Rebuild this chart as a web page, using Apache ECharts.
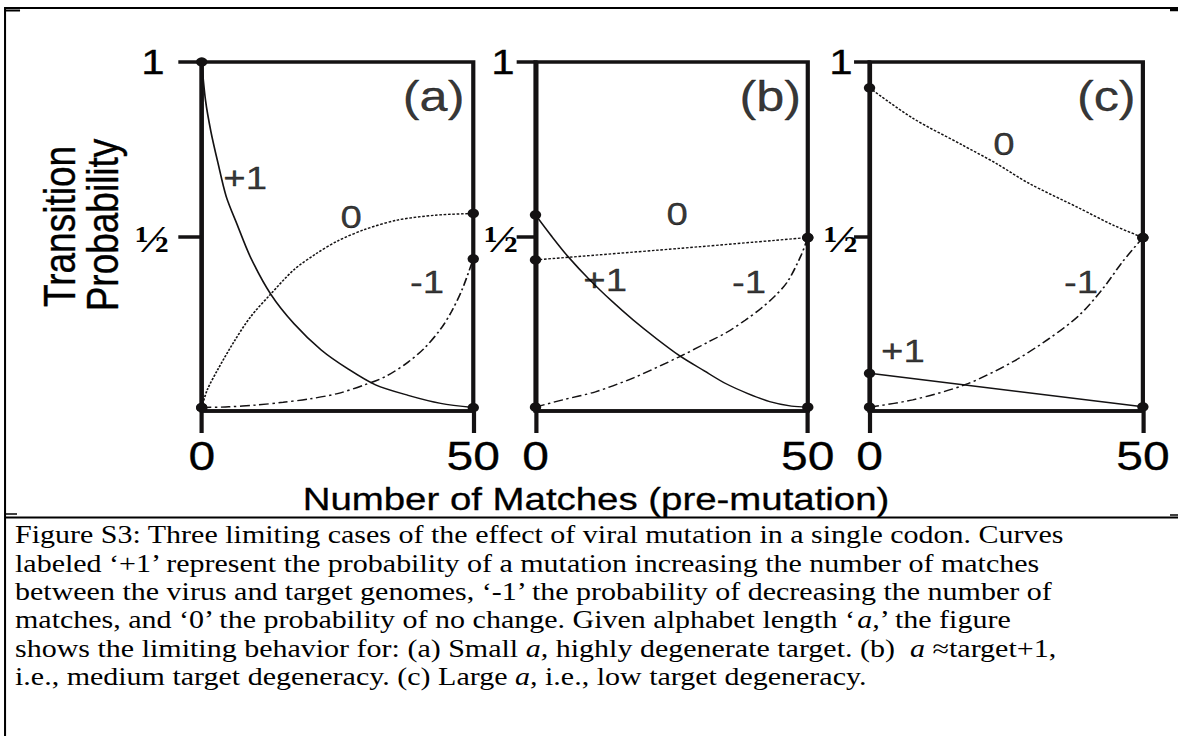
<!DOCTYPE html>
<html>
<head>
<meta charset="utf-8">
<script src="https://cdn.jsdelivr.net/npm/echarts@6/dist/echarts.min.js"></script>
<style>
  html, body { margin: 0; padding: 0; background: #fff; overflow: hidden; }
  #wrap { width: 1178px; height: 736px; overflow: hidden; }
  /* the figure is laid out narrow and widened horizontally as a whole */
  #chart { width: 981.67px; height: 736px; transform: scaleX(1.2); transform-origin: 0 0; }
</style>
</head>
<body>
<div id="wrap"><div id="chart"></div></div>
<script>
// ---- tick values and labels ----
const xTickValues = [0, 50];
const xTickLabels = ['0', '50'];
const yTickValues = [0.5, 1];
const yTickLabels = ['½', '1'];
const panelNames = ['(a)', '(b)', '(c)'];
const curveNames = ['+1', '0', '-1'];

// ---- panel (a): small alphabet, highly degenerate target ----
const aPlusX  = [0, 0.7, 1.7, 3, 4.5, 6.5, 9, 12.7, 17, 22, 27, 32, 38, 44, 50];
const aPlusY  = [1.0, 0.89, 0.80, 0.71, 0.615, 0.535, 0.44, 0.335, 0.25, 0.175, 0.12, 0.075, 0.045, 0.022, 0.01];
const aZeroX  = [0, 1, 3, 6, 9, 12.7, 17, 21, 25, 30, 36, 43, 50];
const aZeroY  = [0.01, 0.06, 0.12, 0.2, 0.27, 0.335, 0.405, 0.45, 0.487, 0.52, 0.547, 0.561, 0.566];
const aMinusX = [0, 5, 10, 15, 20, 25, 30, 34, 38, 41, 44, 46, 48, 50];
const aMinusY = [0.01, 0.012, 0.017, 0.025, 0.035, 0.05, 0.075, 0.1, 0.14, 0.18, 0.235, 0.285, 0.35, 0.436];

// ---- panel (b): alphabet about target + 1 ----
const bPlusX  = [0, 3, 6, 10, 14, 18, 22, 26.5, 31, 35, 39, 43, 47, 50];
const bPlusY  = [0.562, 0.5, 0.442, 0.375, 0.315, 0.26, 0.21, 0.158, 0.115, 0.078, 0.05, 0.027, 0.014, 0.011];
const bZeroX  = [0, 26.5, 50];
const bZeroY  = [0.433, 0.466, 0.497];
const bMinusX = [0, 5, 11, 18, 26.5, 32, 35.3, 38.5, 41.4, 44, 46.3, 48.8, 50];
const bMinusY = [0.011, 0.032, 0.055, 0.095, 0.156, 0.2, 0.227, 0.26, 0.294, 0.33, 0.371, 0.447, 0.497];

// ---- panel (c): large alphabet, low target degeneracy ----
const cPlusX  = [0, 50];
const cPlusY  = [0.108, 0.012];
const cZeroX  = [0, 7.9, 17, 23.1, 29.2, 38.4, 44.5, 50];
const cZeroY  = [0.926, 0.839, 0.762, 0.71, 0.652, 0.581, 0.533, 0.497];
const cMinusX = [0, 7.9, 17.6, 26.2, 32.9, 38.4, 42.7, 46.3, 50];
const cMinusY = [0.011, 0.032, 0.076, 0.141, 0.208, 0.275, 0.351, 0.428, 0.497];

// ---- where each curve name sits, in data units (x, probability), order +1, 0, -1 ----
const aNamePos = [[8.0, 0.668], [27.5, 0.556], [41.5, 0.37]];
const bNamePos = [[12.8, 0.375], [26.0, 0.564], [39.2, 0.37]];
const cNamePos = [[6.1, 0.172], [24.6, 0.765], [38.7, 0.37]];
const panelNamePos = [[42.7, 0.9], [43.1, 0.9], [43.3, 0.9]];

const captionLines = [
  'Figure S3: Three limiting cases of the effect of viral mutation in a single codon. Curves',
  'labeled \u2018+1\u2019 represent the probability of a mutation increasing the number of matches',
  'between the virus and target genomes, \u2018-1\u2019 the probability of decreasing the number of',
  'matches, and \u20180\u2019 the probability of no change. Given alphabet length \u2018{i|a,}\u2019 the figure',
  'shows the limiting behavior for: (a) Small {i|a,} highly degenerate target. (b)\u00a0 {i|a} \u2248target+1,',
  'i.e., medium target degeneracy. (c) Large {i|a,} i.e., low target degeneracy.'
];

// ---- drawing ----
const INK = '#141213';
const TXT = '#000';
const SANS = 'Liberation Sans';
const SERIF = 'Liberation Serif';
const HEAVY = 0.3; // thin outline so the large sans text reads as heavy as the rules

const panelCurves = [
  [[aPlusX, aPlusY], [aZeroX, aZeroY], [aMinusX, aMinusY]],
  [[bPlusX, bPlusY], [bZeroX, bZeroY], [bMinusX, bMinusY]],
  [[cPlusX, cPlusY], [cZeroX, cZeroY], [cMinusX, cMinusY]]
];
const panelNameSets = [aNamePos, bNamePos, cNamePos];

const gridBoxes = [
  { left: 168.1, width: 226.3 },
  { left: 446.25, width: 226.9 },
  { left: 724.6, width: 227.8 }
];
const yTickLen = [19.5, 15.7, 12.9];
const yHalfMargin = [27, 14.4, 9.6];
const yOnePad = [4, 3, 4.4];

const lineTypes = ['solid', [2.2, 1.4], [8, 3, 2, 3]];

function endpointData(xs, ys) {
  return xs.map((x, i) => ({
    value: [x, ys[i]],
    symbol: (i === 0 || i === xs.length - 1) ? 'circle' : 'none'
  }));
}

const grids = [], xAxes = [], yAxes = [], series = [];
gridBoxes.forEach((g, p) => {
  grids.push({
    left: g.left, width: g.width, top: 62, height: 349,
    show: true, borderColor: INK, borderWidth: 3.5, backgroundColor: 'transparent'
  });
  xAxes.push({
    gridIndex: p, type: 'value', min: 0, max: 50, interval: 50,
    axisLine: { show: true, lineStyle: { color: INK, width: 3.5 } },
    axisTick: { show: true, length: 22, customValues: xTickValues, lineStyle: { color: INK, width: 3.5 } },
    axisLabel: {
      show: true, customValues: xTickValues, margin: 25,
      fontFamily: SANS, fontSize: 40, color: TXT, textBorderColor: TXT, textBorderWidth: HEAVY,
      formatter: v => xTickLabels[xTickValues.indexOf(v)]
    },
    splitLine: { show: false }
  });
  yAxes.push({
    gridIndex: p, type: 'value', min: 0, max: 1,
    axisLine: { show: true, lineStyle: { color: INK, width: 3.5 } },
    axisTick: { show: true, length: yTickLen[p], customValues: yTickValues, lineStyle: { color: INK, width: 3.5 } },
    axisLabel: {
      show: true, customValues: yTickValues, margin: yHalfMargin[p], color: TXT,
      formatter: v => {
        const t = yTickLabels[yTickValues.indexOf(v)];
        return v === 0.5 ? '{h|' + t + '}' : '{o|' + t + '}';
      },
      rich: {
        h: { fontFamily: SERIF, fontWeight: 'bold', fontSize: 38, color: TXT, padding: [6, 0, 0, 0] },
        o: { fontFamily: SANS, fontSize: 35, color: TXT, textBorderColor: TXT, textBorderWidth: HEAVY,
             padding: [0, yOnePad[p], 0, 0] }
      }
    },
    splitLine: { show: false }
  });

  panelCurves[p].forEach((c, k) => {
    series.push({
      type: 'line', xAxisIndex: p, yAxisIndex: p,
      data: endpointData(c[0], c[1]),
      smooth: 0.3,
      showSymbol: true, showAllSymbol: true, symbolSize: 9.5,
      itemStyle: { color: INK },
      lineStyle: { color: INK, width: 1.4, type: lineTypes[k] },
      silent: true, z: 3
    });
  });

  series.push({
    type: 'scatter', xAxisIndex: p, yAxisIndex: p, symbolSize: 1,
    itemStyle: { color: 'rgba(0,0,0,0)' },
    data: panelNameSets[p].map((pos, k) => ({ value: pos, name: curveNames[k] })),
    label: { show: true, position: 'inside', formatter: '{b}', color: TXT, fontFamily: SANS, fontSize: 32,
             textBorderColor: TXT, textBorderWidth: HEAVY },
    silent: true, z: 4
  });
  series.push({
    type: 'scatter', xAxisIndex: p, yAxisIndex: p, symbolSize: 1,
    itemStyle: { color: 'rgba(0,0,0,0)' },
    data: [{ value: panelNamePos[p], name: panelNames[p] }],
    label: { show: true, position: 'inside', formatter: '{b}', color: TXT, fontFamily: SANS, fontSize: 42,
             textBorderColor: TXT, textBorderWidth: HEAVY },
    silent: true, z: 4
  });
});

const captionY = [534.8, 563.2, 591.5, 619.8, 648.2, 676.5];
const sansTitle = { fontFamily: SANS, fill: TXT, stroke: TXT, lineWidth: HEAVY, align: 'center', verticalAlign: 'middle' };
const graphics = [
  // table frame
  { type: 'line', shape: { x1: 4.2, y1: 8, x2: 981.7, y2: 8 }, style: { stroke: '#000', lineWidth: 2 } },
  { type: 'line', shape: { x1: 4.2, y1: 7, x2: 4.2, y2: 736 }, style: { stroke: '#000', lineWidth: 1.7 } },
  { type: 'line', shape: { x1: 4.2, y1: 517.5, x2: 981.7, y2: 517.5 }, style: { stroke: '#000', lineWidth: 2 } },
  { type: 'line', shape: { x1: 4.2, y1: 10.5, x2: 16.7, y2: 10.5 }, style: { stroke: '#000', lineWidth: 2 } },
  { type: 'line', shape: { x1: 975, y1: 10, x2: 981.7, y2: 10 }, style: { stroke: '#000', lineWidth: 2.5 } },
  { type: 'line', shape: { x1: 4.2, y1: 514, x2: 14.2, y2: 514 }, style: { stroke: '#000', lineWidth: 1.5 } },
  { type: 'line', shape: { x1: 975, y1: 515, x2: 981.7, y2: 515 }, style: { stroke: '#000', lineWidth: 1.5 } },
  // axis titles
  { type: 'text', x: 49.9, y: 226.5, rotation: Math.PI / 2,
    style: Object.assign({ text: 'Transition', fontSize: 37 }, sansTitle) },
  { type: 'text', x: 86, y: 225, rotation: Math.PI / 2,
    style: Object.assign({ text: 'Probability', fontSize: 37 }, sansTitle) },
  { type: 'text', x: 496.7, y: 498.5,
    style: Object.assign({ text: 'Number of Matches (pre-mutation)', fontSize: 32 }, sansTitle) }
];
captionLines.forEach((t, i) => {
  graphics.push({
    type: 'text', x: 12.5, y: captionY[i],
    style: {
      text: t, fontFamily: SERIF, fontSize: 25, fill: '#000', align: 'left', verticalAlign: 'middle',
      rich: { i: { fontFamily: SERIF, fontSize: 25, fontStyle: 'italic', fill: '#000' } }
    }
  });
});

const chart = echarts.init(document.getElementById('chart'), null, { renderer: 'svg', width: 981.67, height: 736 });
chart.setOption({
  animation: false,
  backgroundColor: '#fff',
  textStyle: { fontFamily: SANS },
  grid: grids,
  xAxis: xAxes,
  yAxis: yAxes,
  series: series,
  graphic: graphics
});
</script>
</body>
</html>
